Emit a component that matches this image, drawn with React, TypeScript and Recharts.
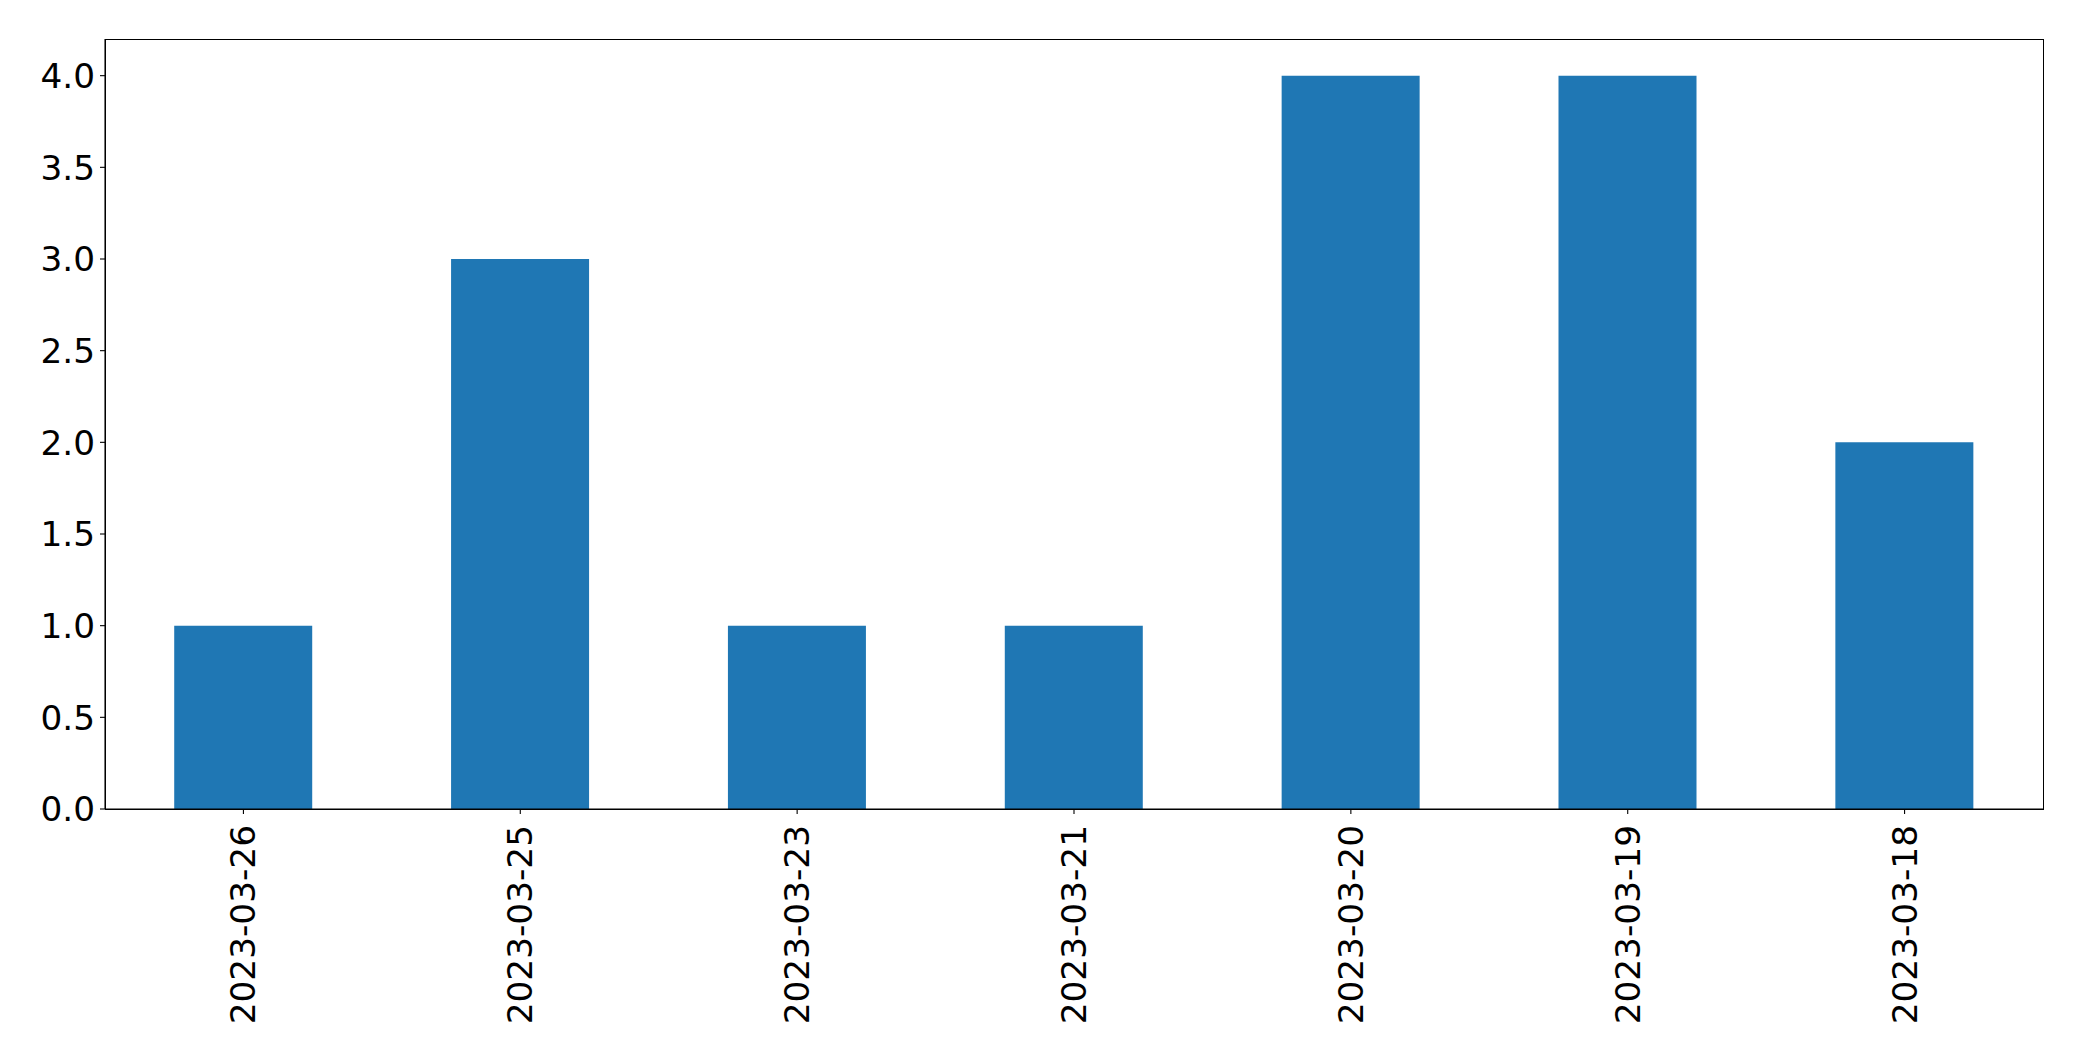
import { BarChart, Bar, XAxis, YAxis } from 'recharts'

const dates = ['2023-03-26', '2023-03-25', '2023-03-23', '2023-03-21', '2023-03-20', '2023-03-19', '2023-03-18']
const counts = [1, 3, 1, 1, 4, 4, 2]
const yTicks = [0, 0.5, 1, 1.5, 2, 2.5, 3, 3.5, 4]

const data = dates.map((date, i) => ({ date, count: counts[i] }))

const FONT = '"DejaVu Sans", sans-serif'
const FS = 34.3

const W = 2082
const H = 1061
const M = { top: 39, right: 39, left: 105, bottom: 252 }

function DateTick(props: any) {
  const { x, y, payload } = props
  const ty = y + 6
  return (
    <text
      x={x}
      y={ty}
      transform={`rotate(-90, ${x}, ${ty})`}
      textAnchor="end"
      dominantBaseline="central"
      fontFamily={FONT}
      fontSize={FS}
      fill="#000"
    >
      {payload.value}
    </text>
  )
}

export default function App() {
  return (
    <div style={{ position: 'absolute', left: 0, top: 0, width: W, height: H, background: '#fff' }}>
      <BarChart
        width={W}
        height={H}
        data={data}
        margin={{ top: M.top, right: M.right, left: 0, bottom: 0 }}
        barCategoryGap="25%"
      >
        <XAxis
          dataKey="date"
          height={M.bottom}
          interval={0}
          tick={<DateTick />}
          tickSize={5}
          tickMargin={5}
          axisLine={{ stroke: '#000', strokeWidth: 1.1 }}
          tickLine={{ stroke: '#000', strokeWidth: 1.1 }}
        />
        <YAxis
          width={M.left}
          domain={[0, 4.2]}
          ticks={yTicks}
          interval={0}
          tickFormatter={(v: number) => v.toFixed(1)}
          tickSize={5}
          tickMargin={5}
          tick={{ fontSize: FS, fontFamily: FONT, fill: '#000' }}
          axisLine={{ stroke: '#000', strokeWidth: 1.1 }}
          tickLine={{ stroke: '#000', strokeWidth: 1.1 }}
        />
        <Bar dataKey="count" fill="#1f77b4" isAnimationActive={false} />
      </BarChart>
      {/* axes frame (top + right spines) */}
      <div
        style={{
          position: 'absolute',
          left: M.left - 0.5,
          top: M.top - 0.5,
          width: W - M.left - M.right + 1,
          height: H - M.top - M.bottom + 1,
          border: '1.1px solid #000',
          boxSizing: 'border-box',
          pointerEvents: 'none',
        }}
      />
    </div>
  )
}
